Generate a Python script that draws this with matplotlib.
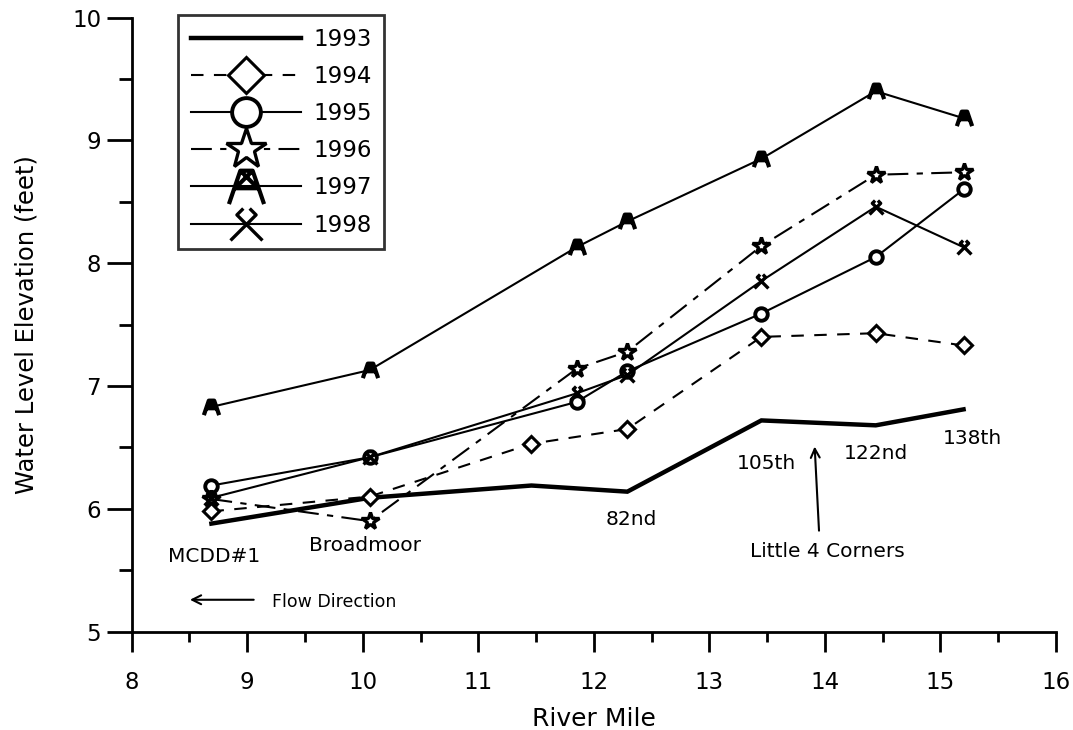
import matplotlib
matplotlib.use("Agg")
import matplotlib.pyplot as plt
from matplotlib.path import Path
from matplotlib.ticker import MultipleLocator

plt.rcParams['font.family'] = ['DejaVu Sans']

# ---- data ----
years = ["1993", "1994", "1995", "1996", "1997", "1998"]
x_1993 = [8.69, 10.06, 11.46, 12.29, 13.45, 14.44, 15.20]
y_1993 = [5.88, 6.09, 6.19, 6.14, 6.72, 6.68, 6.81]
x_1994 = [8.69, 10.06, 11.46, 12.29, 13.45, 14.44, 15.20]
y_1994 = [5.98, 6.10, 6.53, 6.65, 7.40, 7.43, 7.33]
x_1995 = [8.69, 10.06, 11.85, 12.29, 13.45, 14.44, 15.20]
y_1995 = [6.19, 6.42, 6.87, 7.12, 7.59, 8.05, 8.60]
x_1996 = [8.69, 10.06, 11.85, 12.29, 13.45, 14.44, 15.20]
y_1996 = [6.08, 5.90, 7.14, 7.28, 8.14, 8.72, 8.74]
x_1997 = [8.69, 10.06, 11.85, 12.29, 13.45, 14.44, 15.20]
y_1997 = [6.83, 7.13, 8.13, 8.34, 8.85, 9.40, 9.18]
x_1998 = [8.69, 10.06, 11.85, 12.29, 13.45, 14.44, 15.20]
y_1998 = [6.09, 6.42, 6.94, 7.09, 7.855, 8.46, 8.13]

site_labels = ["MCDD#1", "Broadmoor", "82nd", "105th", "122nd", "138th", "Little 4 Corners"]
site_x = [8.71, 10.02, 12.32, 13.49, 14.44, 15.28, 14.02]
site_y = [5.61, 5.70, 5.91, 6.37, 6.45, 6.57, 5.65]

# ---- custom markers ----
tower = Path(
    [(-1, -1), (-0.35, 0.9), (0.35, 0.9), (1, -1),
     (-0.65, -0.1), (0.65, -0.1),
     (-0.35, 0.9), (0.65, -0.1),
     (0.35, 0.9), (-0.65, -0.1)],
    [Path.MOVETO, Path.LINETO, Path.LINETO, Path.LINETO,
     Path.MOVETO, Path.LINETO,
     Path.MOVETO, Path.LINETO,
     Path.MOVETO, Path.LINETO])
hookx = Path(
    [(-1, -1), (0.6, 0.6), (0.2, 1.0),
     (1, -1), (-0.6, 0.6), (-0.2, 1.0)],
    [Path.MOVETO, Path.LINETO, Path.LINETO,
     Path.MOVETO, Path.LINETO, Path.LINETO])

fig = plt.figure(figsize=(10.73, 7.30), dpi=100)
ax = fig.add_axes([131.7 / 1073, 1 - 631.7 / 730, (1056 - 131.7) / 1073, (631.7 - 17.5) / 730])

ms = 9
ax.plot(x_1993, y_1993, color='black', lw=3.2, solid_joinstyle='miter', label=years[0])
ax.plot(x_1994, y_1994, color='black', lw=1.5, ls=(0, (6, 5)), marker='D', ms=ms - 1,
        mfc='white', mec='black', mew=2.2, label=years[1])
ax.plot(x_1995, y_1995, color='black', lw=1.5, marker='o', ms=ms,
        mfc='white', mec='black', mew=2.8, label=years[2])
ax.plot(x_1996, y_1996, color='black', lw=1.5, ls=(0, (10, 4, 3, 4)), marker='*', ms=ms + 4,
        mfc='white', mec='black', mew=2.4, label=years[3])
ax.plot(x_1997, y_1997, color='black', lw=1.5, marker=tower, ms=ms + 2,
        mfc='none', mec='black', mew=3, label=years[4])
ax.plot(x_1998, y_1998, color='black', lw=1.5, marker=hookx, ms=ms + 1,
        mfc='none', mec='black', mew=2.4, label=years[5])

ax.set_xlim(8, 16)
ax.set_ylim(5, 10)
ax.xaxis.set_major_locator(MultipleLocator(1))
ax.xaxis.set_minor_locator(MultipleLocator(0.5))
ax.yaxis.set_major_locator(MultipleLocator(1))
ax.yaxis.set_minor_locator(MultipleLocator(0.5))

for s in ['top', 'right']:
    ax.spines[s].set_visible(False)
for s in ['left', 'bottom']:
    ax.spines[s].set_linewidth(2)

ax.tick_params(axis='x', which='major', length=14.4, width=2, direction='out', pad=14, labelsize=16.5)
ax.tick_params(axis='x', which='minor', length=7.2, width=2, direction='out')
ax.tick_params(axis='y', which='major', length=18, width=2, direction='out', pad=4, labelsize=16.5)
ax.tick_params(axis='y', which='minor', length=9.4, width=2, direction='out')

ax.set_xlabel("River Mile", fontsize=18, labelpad=9)
ax.set_ylabel("Water Level Elevation (feet)", fontsize=17.5, labelpad=24)

for lab, lx, ly in zip(site_labels, site_x, site_y):
    ax.text(lx, ly, lab, fontsize=14.5, ha='center', va='center')

# arrow to Little 4 Corners
ax.annotate("", xy=(13.91, 6.53), xytext=(13.95, 5.80),
            arrowprops=dict(arrowstyle='->', color='black', lw=1.5, mutation_scale=16))
# flow direction arrow
ax.annotate("", xy=(8.48, 5.26), xytext=(9.08, 5.26),
            arrowprops=dict(arrowstyle='->', color='black', lw=1.5, mutation_scale=16))
ax.text(9.21, 5.24, "Flow Direction", fontsize=12.5, ha='left', va='center')

leg = ax.legend(loc='upper left', bbox_to_anchor=(178 / 1073, 1 - 15 / 730),
                bbox_transform=fig.transFigure, borderaxespad=0,
                fontsize=16.5, handlelength=4.8, handletextpad=0.55, labelspacing=0.62,
                markerscale=2.3, fancybox=False, frameon=True, borderpad=0.55)
leg.get_frame().set_edgecolor('black')
leg.get_frame().set_linewidth(2)

fig.savefig("out.png", dpi=100)
